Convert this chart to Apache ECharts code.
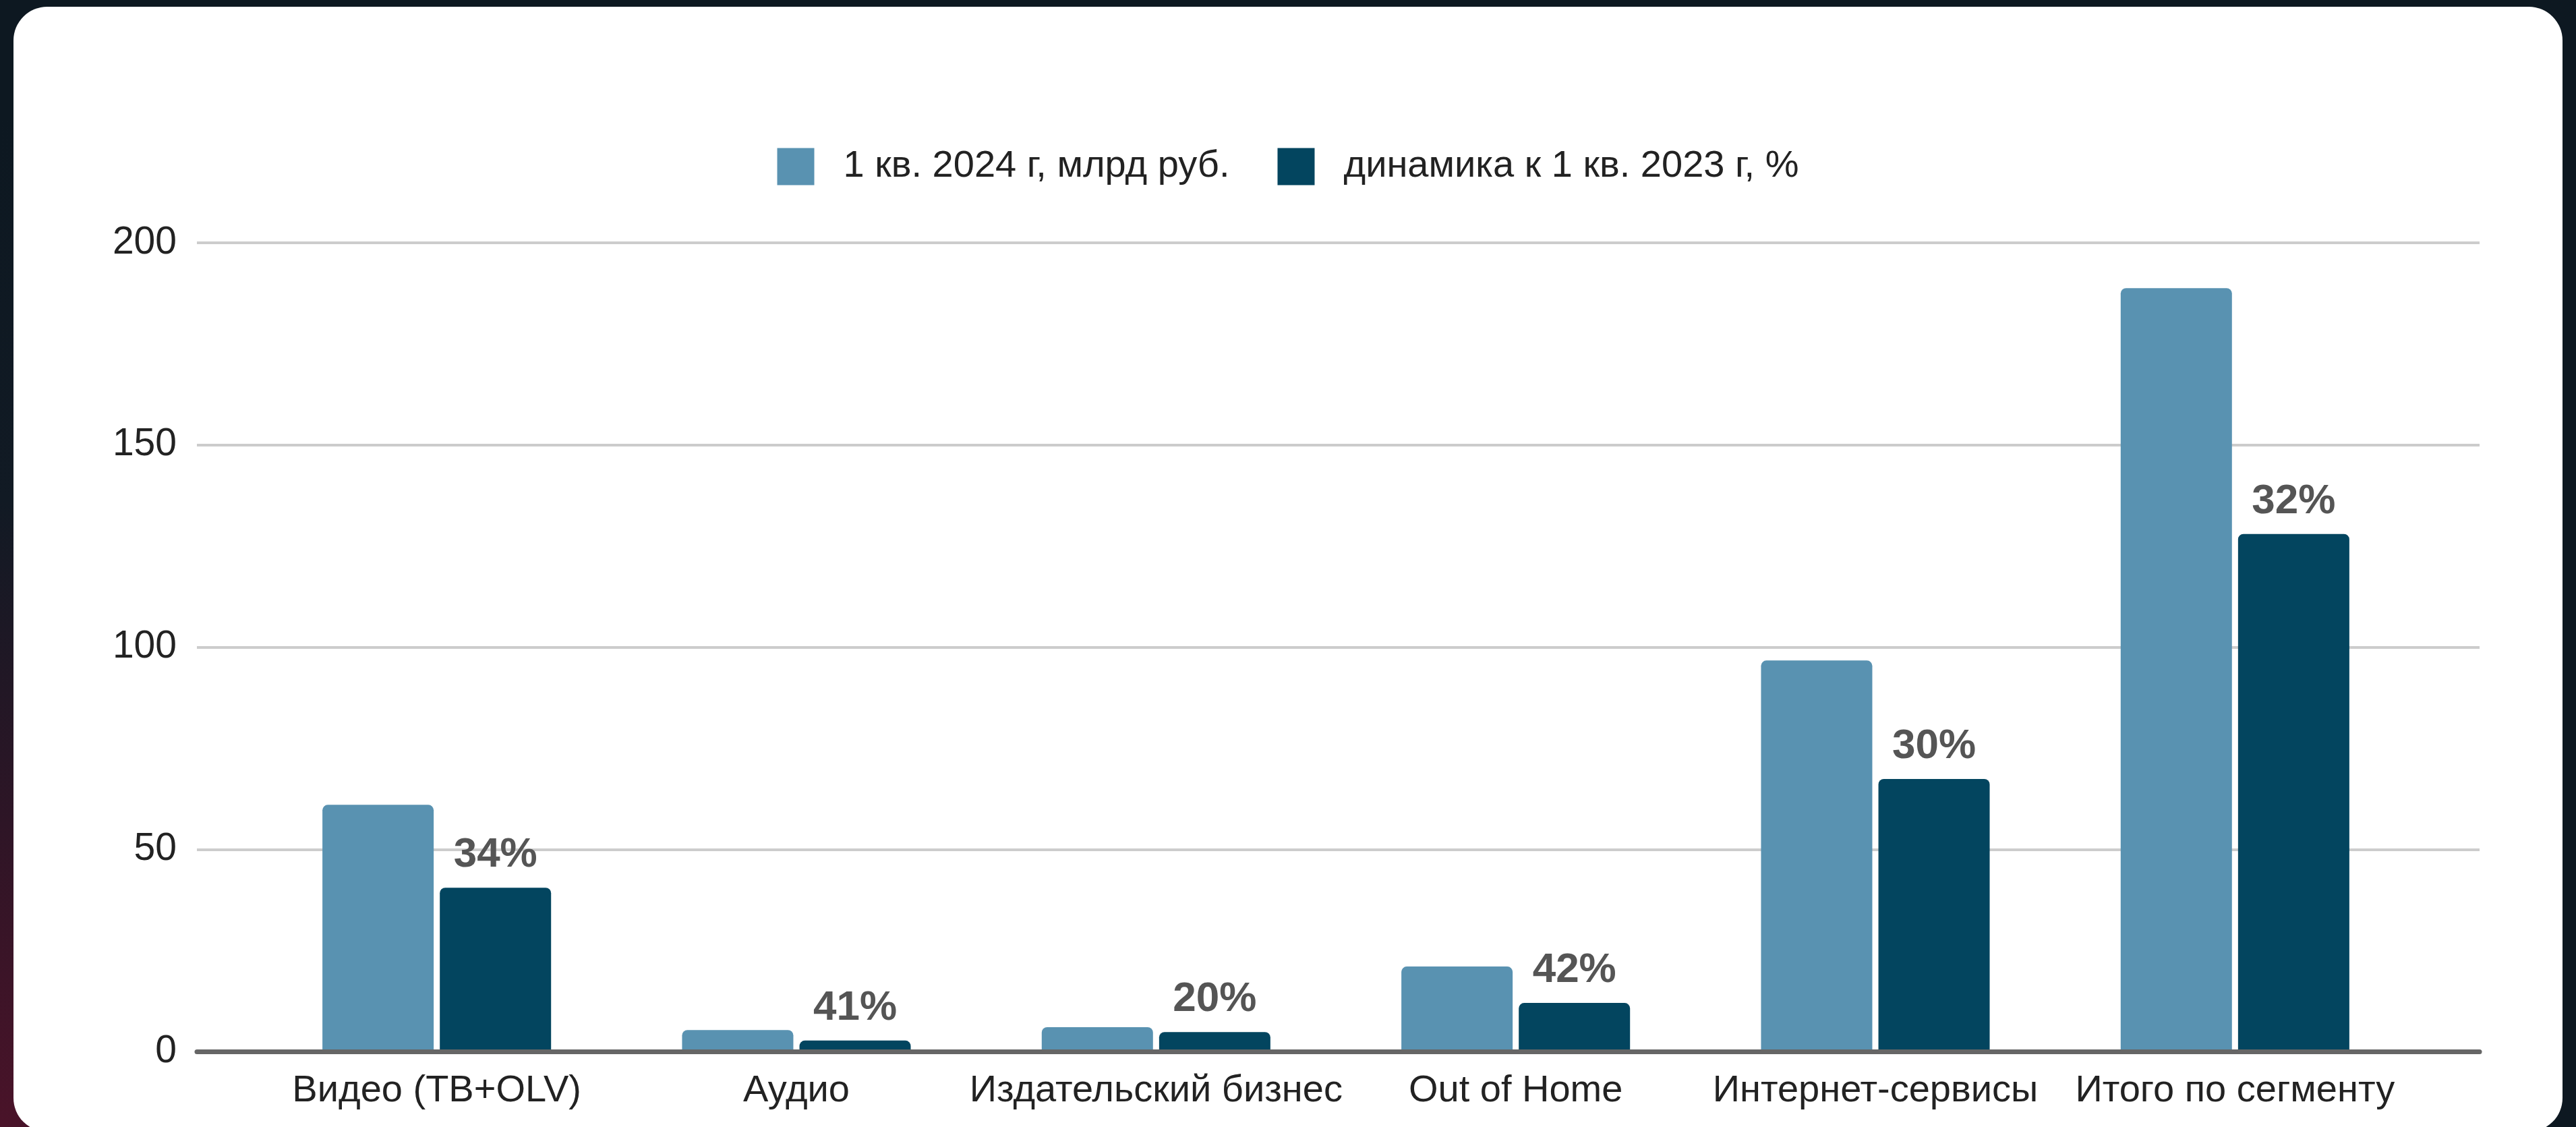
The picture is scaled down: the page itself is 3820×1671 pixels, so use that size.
<!DOCTYPE html>
<html>
<head>
<meta charset="utf-8">
<script src="https://cdn.jsdelivr.net/npm/echarts@6/dist/echarts.min.js"></script>
<style>
html, body { margin:0; padding:0; width:3820px; height:1671px; overflow:hidden; }
body { background: radial-gradient(ellipse 2200px 1500px at 0% 100%, #4a1329 0%, #2e1526 30%, #111a24 62%, #0d1821 100%); position:relative; }
#card { position:absolute; left:20px; top:10px; width:3780px; height:1668px; background:#fff; border-radius:50px; }
#chart { position:absolute; left:0; top:0; width:3820px; height:1671px; }
</style>
</head>
<body>
<div id="card"></div>
<div id="chart"></div>
<script>
const categories = ['Видео (ТВ+OLV)', 'Аудио', 'Издательский бизнес', 'Out of Home', 'Интернет-сервисы', 'Итого по сегменту'];
const seriesNames = ['1 кв. 2024 г, млрд руб.', 'динамика к 1 кв. 2023 г, %'];
const valuesQ1_2024 = [61.0, 5.3, 6.0, 21.0, 96.7, 188.8];
const valuesDynamics = [40.5, 2.7, 4.8, 12.0, 67.4, 128.0];
const dynamicsLabels = ['34%', '41%', '20%', '42%', '30%', '32%'];
const yTicks = [0, 50, 100, 150, 200];

const FONT = "'Liberation Sans', Arial, sans-serif";
const chart = echarts.init(document.getElementById('chart'), null, { renderer: 'canvas' });

chart.setOption({
  backgroundColor: 'transparent',
  animation: false,
  legend: {
    top: 214,
    left: 'center',
    itemWidth: 55,
    itemHeight: 55,
    itemGap: 71,
    icon: 'rect',
    textStyle: { fontFamily: FONT, fontSize: 56, color: '#222', padding: [0, 0, 0, 38] },
    data: seriesNames
  },
  grid: [
    { left: 292, right: 143, top: 360, bottom: 112 },
    { left: 381, right: 239, top: 360, bottom: 112 }
  ],
  xAxis: [
    { gridIndex: 0, type: 'value', min: 0, max: 1, axisLabel: { show: false }, axisTick: { show: false }, splitLine: { show: false },
      axisLine: { show: true, lineStyle: { color: '#666', width: 7 } }, z: 3 },
    { gridIndex: 1, type: 'category', data: categories, axisLine: { show: false }, axisTick: { show: false },
      axisLabel: { fontFamily: FONT, fontSize: 56, color: '#222', margin: 31, interval: 0 } }
  ],
  yAxis: [
    { gridIndex: 0, type: 'value', min: yTicks[0], max: yTicks[yTicks.length - 1], interval: 50,
      axisLine: { show: false }, axisTick: { show: false },
      axisLabel: { fontFamily: FONT, fontSize: 57, color: '#222', margin: 30 },
      splitLine: { lineStyle: { color: '#cccccc', width: 4 } } },
    { gridIndex: 1, type: 'value', min: yTicks[0], max: yTicks[yTicks.length - 1], interval: 50, show: false, splitLine: { show: false } }
  ],
  series: [
    { name: seriesNames[0], type: 'bar', xAxisIndex: 1, yAxisIndex: 1, data: valuesQ1_2024,
      barWidth: 165, barGap: '5.5%', itemStyle: { color: '#5992b1', borderRadius: [8, 8, 0, 0] } },
    { name: seriesNames[1], type: 'bar', xAxisIndex: 1, yAxisIndex: 1, data: valuesDynamics,
      barWidth: 165, itemStyle: { color: '#03455f', borderRadius: [8, 8, 0, 0] },
      label: { show: true, position: 'top', distance: 17, fontFamily: FONT, fontSize: 62, fontWeight: 'bold', color: '#555',
        formatter: p => dynamicsLabels[p.dataIndex] } }
  ]
});
</script>
</body>
</html>
